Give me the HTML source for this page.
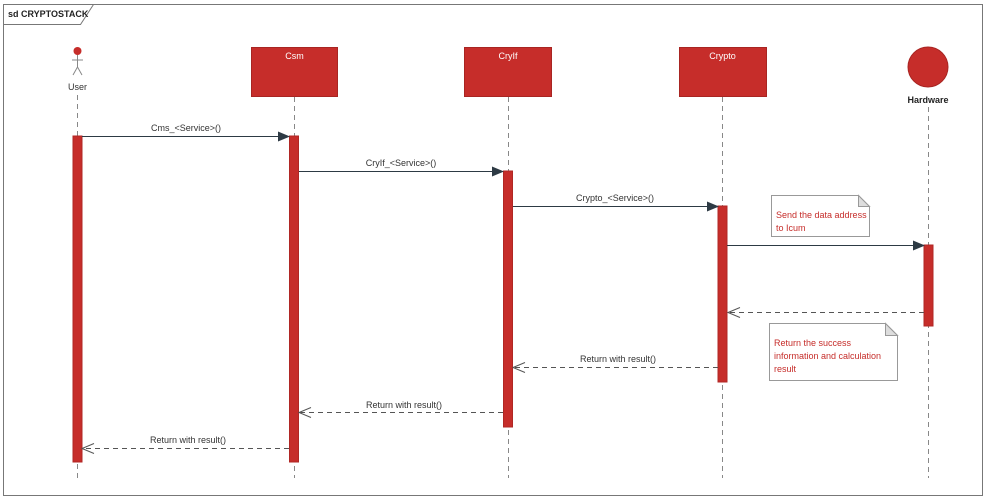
<!DOCTYPE html><html><head><style>body{margin:0;background:#fff}svg{display:block}text{font-family:"Liberation Sans",sans-serif;font-size:9px;fill:#333}</style></head><body>
<svg width="987" height="499" viewBox="0 0 987 499">
<defs><marker id="f" markerWidth="12" markerHeight="10" refX="11" refY="5" orient="auto" markerUnits="userSpaceOnUse"><path d="M0,0L12,5L0,10z" fill="#2d3a44"/></marker>
<marker id="o" markerWidth="14" markerHeight="12" refX="13" refY="6" orient="auto" markerUnits="userSpaceOnUse"><path d="M1,1L13,6L1,11" fill="none" stroke="#555" stroke-width="1" stroke-dasharray="none"/></marker></defs>
<rect x="3.5" y="4.5" width="979" height="491" fill="#fff" stroke="#777"/>
<path d="M3.5,24.5H80.5L93.5,4.5" fill="none" stroke="#777"/>
<text x="8" y="17" style="font-weight:bold;font-size:9px;fill:#222">sd CRYPTOSTACK</text>
<g stroke="#888" stroke-dasharray="5,4" stroke-width="1">
<line x1="77.5" y1="95" x2="77.5" y2="478"/><line x1="294.5" y1="97" x2="294.5" y2="478"/><line x1="508.5" y1="97" x2="508.5" y2="478"/><line x1="722.5" y1="97" x2="722.5" y2="478"/><line x1="928.5" y1="107" x2="928.5" y2="478"/></g>
<circle cx="77.5" cy="51" r="4" fill="#c62d2a"/>
<g stroke="#888" fill="none"><line x1="77.5" y1="55" x2="77.5" y2="67"/><line x1="72" y1="60" x2="83" y2="60"/><path d="M73,75L77.5,67L82,75"/></g>
<text x="77.5" y="90" text-anchor="middle">User</text>
<g fill="#c62d2a" stroke="#a82522"><rect x="251.5" y="47.5" width="86" height="49"/><rect x="464.5" y="47.5" width="87" height="49"/><rect x="679.5" y="47.5" width="87" height="49"/></g>
<g text-anchor="middle"><text x="294.5" y="59" style="fill:#fff">Csm</text><text x="508" y="59" style="fill:#fff">CryIf</text><text x="722.5" y="59" style="fill:#fff">Crypto</text></g>
<circle cx="928" cy="67" r="20" fill="#c62d2a" stroke="#a82522"/>
<text x="928" y="103" text-anchor="middle" style="font-weight:bold;fill:#222">Hardware</text>
<g fill="#c62d2a" stroke="#b02724"><rect x="73" y="136" width="9" height="326"/><rect x="289.5" y="136" width="9" height="326"/><rect x="503.5" y="171" width="9" height="256"/><rect x="718" y="206" width="9" height="176"/><rect x="924" y="245" width="9" height="81"/></g>
<g stroke="#2d3a44" stroke-width="1" marker-end="url(#f)"><line x1="82" y1="136.5" x2="289" y2="136.5"/><line x1="299" y1="171.5" x2="503" y2="171.5"/><line x1="513" y1="206.5" x2="718" y2="206.5"/><line x1="727" y1="245.5" x2="924" y2="245.5"/></g>
<g stroke="#555" stroke-dasharray="5,4" marker-end="url(#o)"><line x1="924" y1="312.5" x2="728" y2="312.5"/><line x1="718" y1="367.5" x2="513" y2="367.5"/><line x1="503" y1="412.5" x2="299" y2="412.5"/><line x1="289" y1="448.5" x2="82" y2="448.5"/></g>
<g text-anchor="middle"><text x="186" y="131">Cms_&lt;Service&gt;()</text><text x="401" y="166">CryIf_&lt;Service&gt;()</text><text x="615" y="201">Crypto_&lt;Service&gt;()</text><text x="618" y="362">Return with result()</text><text x="404" y="408">Return with result()</text><text x="188" y="443">Return with result()</text></g>
<path d="M771.5,195.5H858.5L869.5,206.5V236.5H771.5Z" fill="#fff" stroke="#999"/><path d="M858.5,195.5V206.5H869.5Z" fill="#ddd" stroke="#999"/>
<text x="776" y="218" style="fill:#c62d2a;font-size:9px">Send the data address</text><text x="776" y="231" style="fill:#c62d2a;font-size:9px">to Icum</text>
<path d="M769.5,323.5H885.5L897.5,335.5V380.5H769.5Z" fill="#fff" stroke="#999"/><path d="M885.5,323.5V335.5H897.5Z" fill="#ddd" stroke="#999"/>
<text x="774" y="346" style="fill:#c62d2a;font-size:9px">Return the success</text><text x="774" y="359" style="fill:#c62d2a;font-size:9px">information and calculation</text><text x="774" y="372" style="fill:#c62d2a;font-size:9px">result</text>
</svg></body></html>
